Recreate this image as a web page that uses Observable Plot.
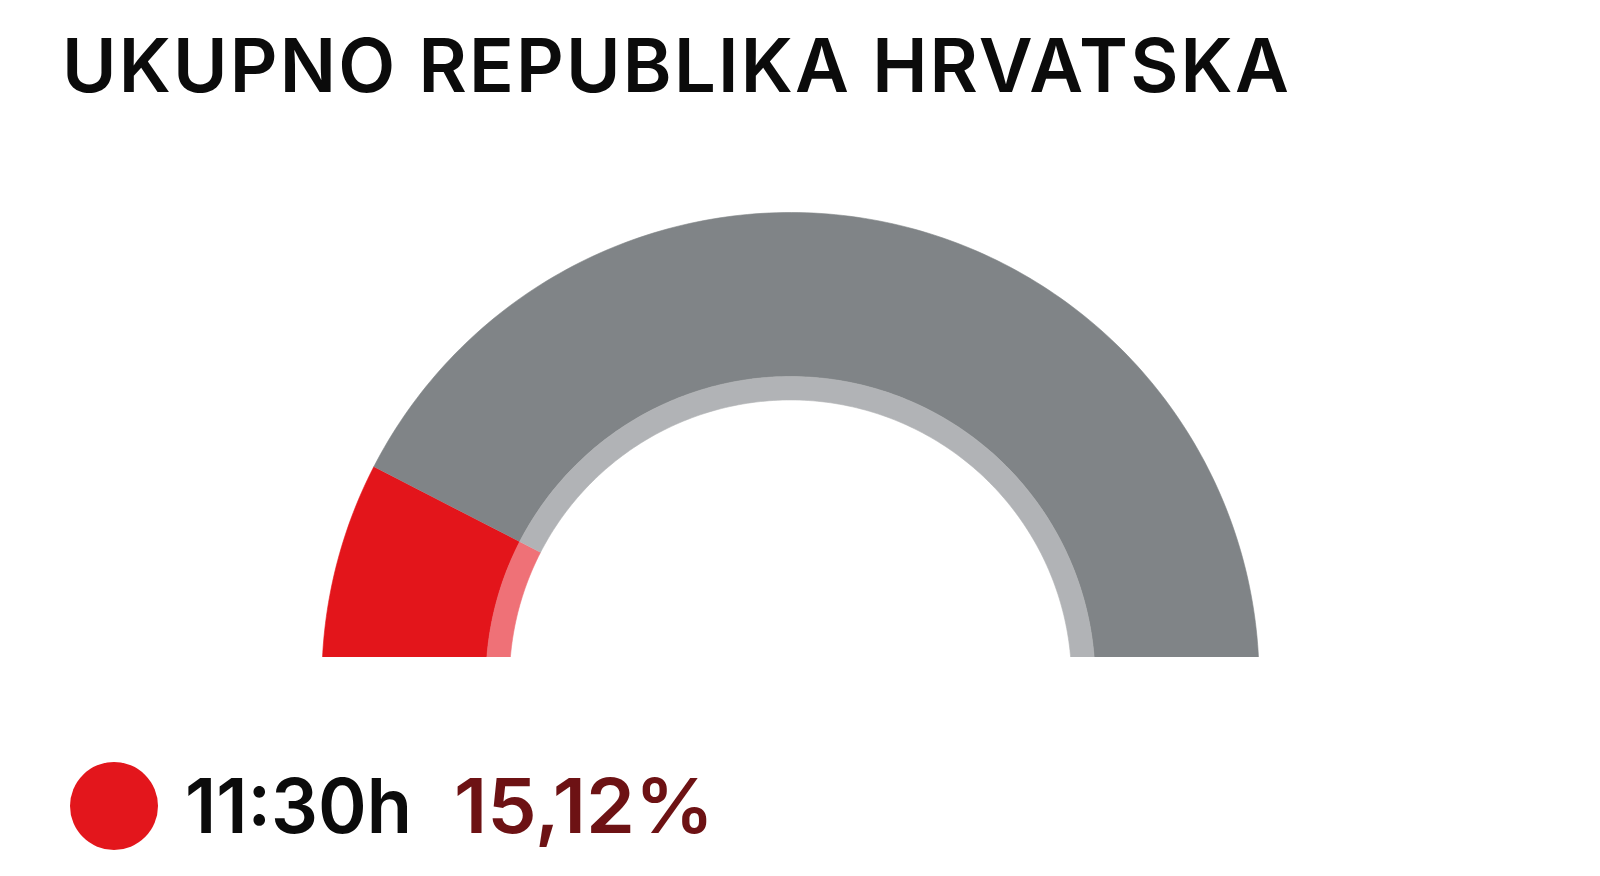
<!DOCTYPE html>
<html>
<head>
<meta charset="utf-8">
<script src="https://cdn.jsdelivr.net/npm/d3@7"></script>
<script src="https://cdn.jsdelivr.net/npm/@observablehq/plot@0.6"></script>
<style>
  html, body { margin: 0; padding: 0; background: #ffffff; }
  body { width: 1600px; height: 876px; position: relative; overflow: hidden; }
  .txt { position: absolute; white-space: nowrap; line-height: 1.2; font-family: Inter, "Noto Sans", sans-serif; font-weight: 600; transform-origin: 0 0; }
  #chart { position: absolute; left: 0; top: 180px; }
  #dot { position: absolute; left: 70px; top: 762px; width: 88px; height: 88px; border-radius: 50%; background: #e3161c; }
</style>
</head>
<body>
<div id="title" class="txt" style="color:#0b0b0b">UKUPNO REPUBLIKA HRVATSKA</div>
<div id="chart"></div>
<div id="dot"></div>
<div id="time" class="txt" style="color:#0b0b0b"></div>
<div id="pct" class="txt" style="color:#6d1214"></div>
<script>
// ---- data ----
const categories = ["11:30h", "Ostalo"];
const shares = [15.12, 84.88];          // percent of the half-circle
const rings = ["vanjski", "unutarnji"];
const legendTime = "11:30h";
const legendValue = "15,12%";

// ---- style / layout config ----
const ringRadii = { vanjski: [65, 100], unutarnji: [60, 65] };
const colorDomain = ["11:30h|vanjski", "11:30h|unutarnji", "Ostalo|vanjski", "Ostalo|unutarnji"];
const colorRange = ["#e3151b", "#ef7177", "#808487", "#b1b3b6"];

// build arc polygons from the shares
const starts = [0, ...d3.cumsum(shares)].slice(0, shares.length);
const rows = [];
categories.forEach((cat, i) => {
  const v0 = starts[i], v1 = starts[i] + shares[i];
  rings.forEach(ring => {
    const [r0, r1] = ringRadii[ring];
    const id = cat + "|" + ring;
    const n = Math.max(4, Math.ceil((v1 - v0) * 2));
    const pts = [];
    for (let k = 0; k <= n; k++) { const v = v0 + (v1 - v0) * k / n; pts.push([v, r1]); }
    for (let k = n; k >= 0; k--) { const v = v0 + (v1 - v0) * k / n; pts.push([v, r0]); }
    for (const [v, r] of pts) {
      const t = Math.PI - (v / 100) * Math.PI;
      rows.push({ id, key: id, x: r * Math.cos(t), y: r * Math.sin(t) });
    }
  });
});

const chart = Plot.plot({
  width: 1600,
  height: 477,
  margin: 0,
  x: { domain: [-168.59, 172.86], axis: null },
  y: { domain: [5.036, 106.83], axis: null },
  color: { type: "ordinal", domain: colorDomain, range: colorRange },
  marks: [
    Plot.line(rows, { x: "x", y: "y", z: "id", fill: "key", stroke: "key", strokeWidth: 0.6, clip: true })
  ]
});
document.getElementById("chart").appendChild(chart);

// ---- text fitting helper: cap height sets size, horizontal stretch + spacing sets width ----
function place(el, text, capTop, baseline, inkLeft, inkRight, lsEm) {
  const fam = getComputedStyle(el).fontFamily;
  const wt = getComputedStyle(el).fontWeight;
  const ctx = document.createElement("canvas").getContext("2d");
  ctx.font = `${wt} 100px ${fam}`;
  const capH100 = ctx.measureText("H").actualBoundingBoxAscent;
  const size = 100 * (baseline - capTop) / capH100;
  ctx.font = `${wt} ${size}px ${fam}`;
  const m = ctx.measureText(text);
  const ink = m.actualBoundingBoxLeft + m.actualBoundingBoxRight;
  const n = [...text].length;
  const ls = lsEm * size;
  const sx = (inkRight - inkLeft) / (ink + ls * (n - 1));
  el.textContent = "";
  el.style.fontSize = size + "px";
  el.style.letterSpacing = ls + "px";
  const span = document.createElement("span");
  span.textContent = text;
  const probe = document.createElement("span");
  probe.style.display = "inline-block";
  probe.style.width = "0px";
  probe.style.height = "0px";
  el.appendChild(span);
  el.appendChild(probe);
  el.style.left = "0px";
  el.style.top = "0px";
  const b = probe.getBoundingClientRect().top;
  el.style.transform = `scaleX(${sx})`;
  el.style.left = (inkLeft + m.actualBoundingBoxLeft * sx) + "px";
  el.style.top = (baseline - b) + "px";
}
place(document.getElementById("title"), "UKUPNO REPUBLIKA HRVATSKA", 38, 92, 67, 1288, 0.03);
place(document.getElementById("time"), legendTime, 778, 833, 188, 408, 0.0);
place(document.getElementById("pct"), legendValue, 778, 833, 457, 707, 0.0);
</script>
</body>
</html>
